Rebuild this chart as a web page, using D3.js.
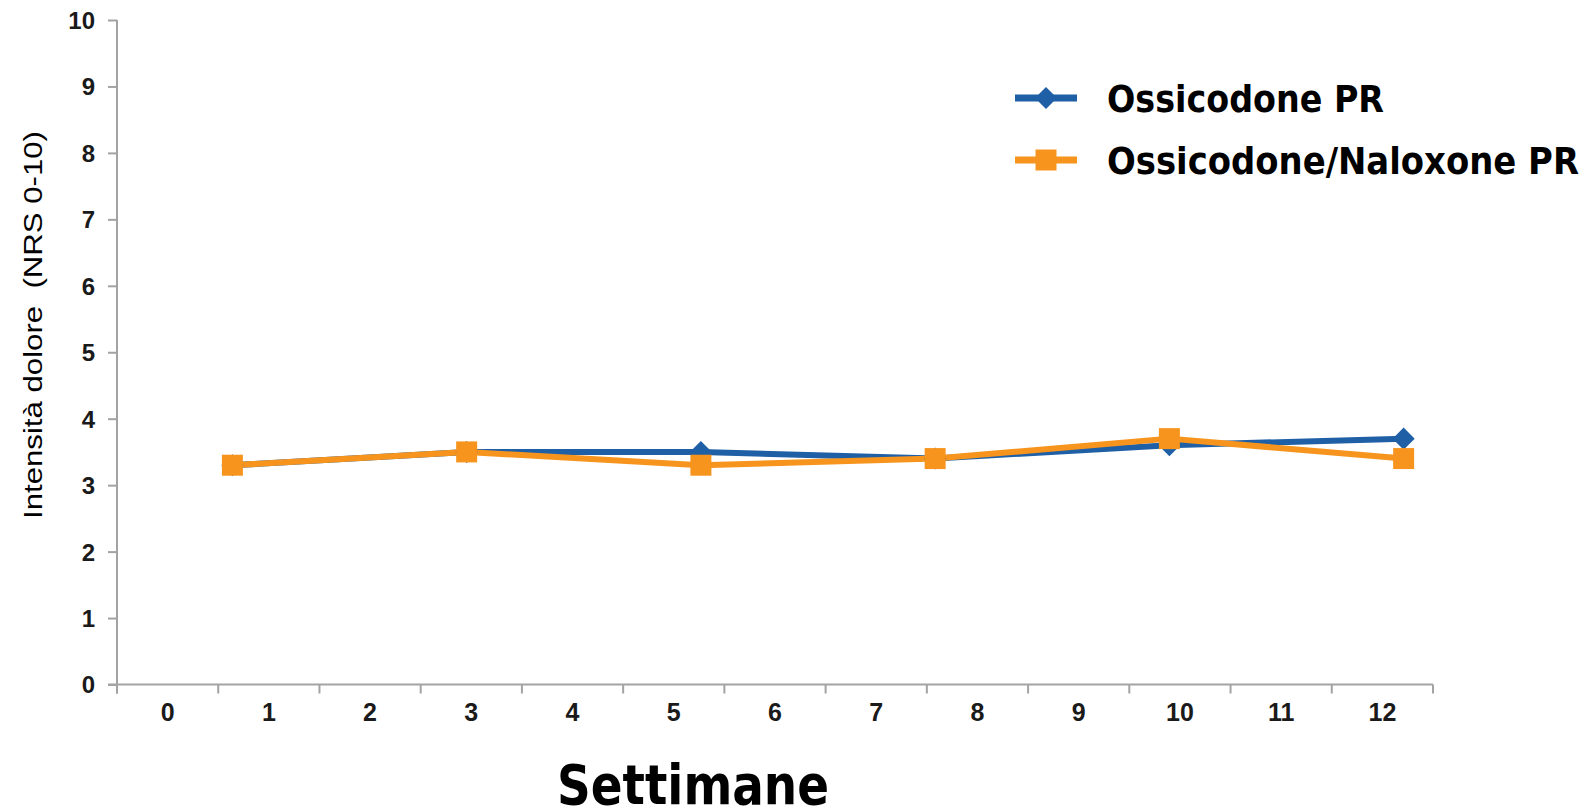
<!DOCTYPE html>
<html><head><meta charset="utf-8">
<script src="https://cdn.jsdelivr.net/npm/d3@7"></script>
<style>body{margin:0;background:#fff}svg{display:block}</style>
</head><body>
<script>
const xCategories = ["0","1","2","3","4","5","6","7","8","9","10","11","12"];
const weeks = ["1","3","5","8","10","12"];
const ossicodone = [3.3, 3.5, 3.5, 3.4, 3.6, 3.7];
const ossiNaloxone = [3.3, 3.5, 3.3, 3.4, 3.7, 3.4];
const yTicks = [0,1,2,3,4,5,6,7,8,9,10];
const seriesNames = ["Ossicodone PR", "Ossicodone/Naloxone PR"];
const colors = ["#1f5fa5", "#f7941d"];

(function(){
const W = 1590, H = 807;
const svg = d3.select("body").append("svg").attr("width", W).attr("height", H);
const mLeft = 117, mRight = 1433, mTop = 20, mBottom = 684.5;

const x = d3.scaleBand().domain(xCategories).range([mLeft, mRight]);
const bw = x.bandwidth();
const xp = d3.scalePoint().domain(weeks).range([mLeft + 1.14 * bw, mLeft + 12.71 * bw]);
const y = d3.scaleLinear().domain([0, 10]).range([mBottom, mTop]);

const axisColor = "#a3a3a3";
// Y axis
const yAxis = svg.append("g").attr("transform", `translate(${mLeft},0)`)
  .call(d3.axisLeft(y).tickValues(yTicks).tickSize(9).tickPadding(13));
yAxis.select(".domain").remove();
yAxis.append("line").attr("x1",0).attr("x2",0).attr("y1",mTop).attr("y2",mBottom+9)
  .attr("stroke",axisColor).attr("stroke-width",2);
yAxis.selectAll(".tick line").attr("stroke",axisColor).attr("stroke-width",2);
yAxis.selectAll(".tick text").attr("font-family","'Liberation Sans', Arial, sans-serif")
  .attr("font-size",24).attr("font-weight","bold").attr("fill","#1a1a1a").attr("dy","0.35em");

// X axis
const xAxis = svg.append("g").attr("transform", `translate(0,${mBottom})`)
  .call(d3.axisBottom(x).tickSize(0).tickPadding(0));
xAxis.select(".domain").remove();
xAxis.append("line").attr("x1",mLeft-9).attr("x2",mRight).attr("y1",0).attr("y2",0)
  .attr("stroke",axisColor).attr("stroke-width",2);
const boundaries = xCategories.map(c => x(c)).concat([mRight]);
xAxis.selectAll(".bt").data(boundaries).join("line").attr("class","bt")
  .attr("x1",d=>d).attr("x2",d=>d).attr("y1",0).attr("y2",9)
  .attr("stroke",axisColor).attr("stroke-width",2);
xAxis.selectAll(".tick text").attr("font-family","'Liberation Sans', Arial, sans-serif")
  .attr("font-size",25).attr("font-weight","bold").attr("fill","#1a1a1a")
  .attr("y",36).attr("dy",0);

// Lines
const series = [ossicodone, ossiNaloxone];
const line = d3.line().x((d,i)=>xp(weeks[i])).y(d=>y(d));
series.forEach((s, k) => {
  svg.append("path").datum(s).attr("d", line).attr("fill","none")
    .attr("stroke", colors[k]).attr("stroke-width", 6).attr("stroke-linejoin","round");
});
const diamond = d3.symbol().type(d3.symbolDiamond2).size(310);
const square = d3.symbol().type(d3.symbolSquare).size(441);
svg.append("g").selectAll("path").data(ossicodone).join("path")
  .attr("d", diamond).attr("fill", colors[0])
  .attr("transform",(d,i)=>`translate(${xp(weeks[i])},${y(d)})`);
svg.append("g").selectAll("path").data(ossiNaloxone).join("path")
  .attr("d", square).attr("fill", colors[1])
  .attr("transform",(d,i)=>`translate(${xp(weeks[i])},${y(d)})`);

// Legend
const legY = [98, 160];
const legTextLen = [277, 472];
seriesNames.forEach((n,k) => {
  const g = svg.append("g");
  g.append("line").attr("x1",1015).attr("x2",1077).attr("y1",legY[k]).attr("y2",legY[k])
    .attr("stroke",colors[k]).attr("stroke-width",7);
  g.append("path").attr("d", k===0 ? diamond : square).attr("fill",colors[k])
    .attr("transform",`translate(1046,${legY[k]})`);
  g.append("text").attr("x",1107).attr("y",legY[k]+14).text(n)
    .attr("font-family","'DejaVu Sans', Verdana, sans-serif").attr("font-weight","bold")
    .attr("font-size",38).attr("fill","#000")
    .attr("textLength",legTextLen[k]).attr("lengthAdjust","spacingAndGlyphs");
});

// Axis titles
svg.append("text").attr("x",557).attr("y",804).text("Settimane")
  .attr("font-family","'DejaVu Sans', Verdana, sans-serif").attr("font-weight","bold")
  .attr("font-size",56).attr("fill","#000")
  .attr("textLength",272).attr("lengthAdjust","spacingAndGlyphs");
svg.append("text").attr("transform","translate(42,325) rotate(-90)")
  .attr("text-anchor","middle").text("Intensità dolore  (NRS 0-10)")
  .style("white-space","pre")
  .attr("font-family","'Liberation Sans', Arial, sans-serif").attr("font-size",25)
  .attr("fill","#000").attr("textLength",388).attr("lengthAdjust","spacingAndGlyphs");
})();
</script>
</body></html>
